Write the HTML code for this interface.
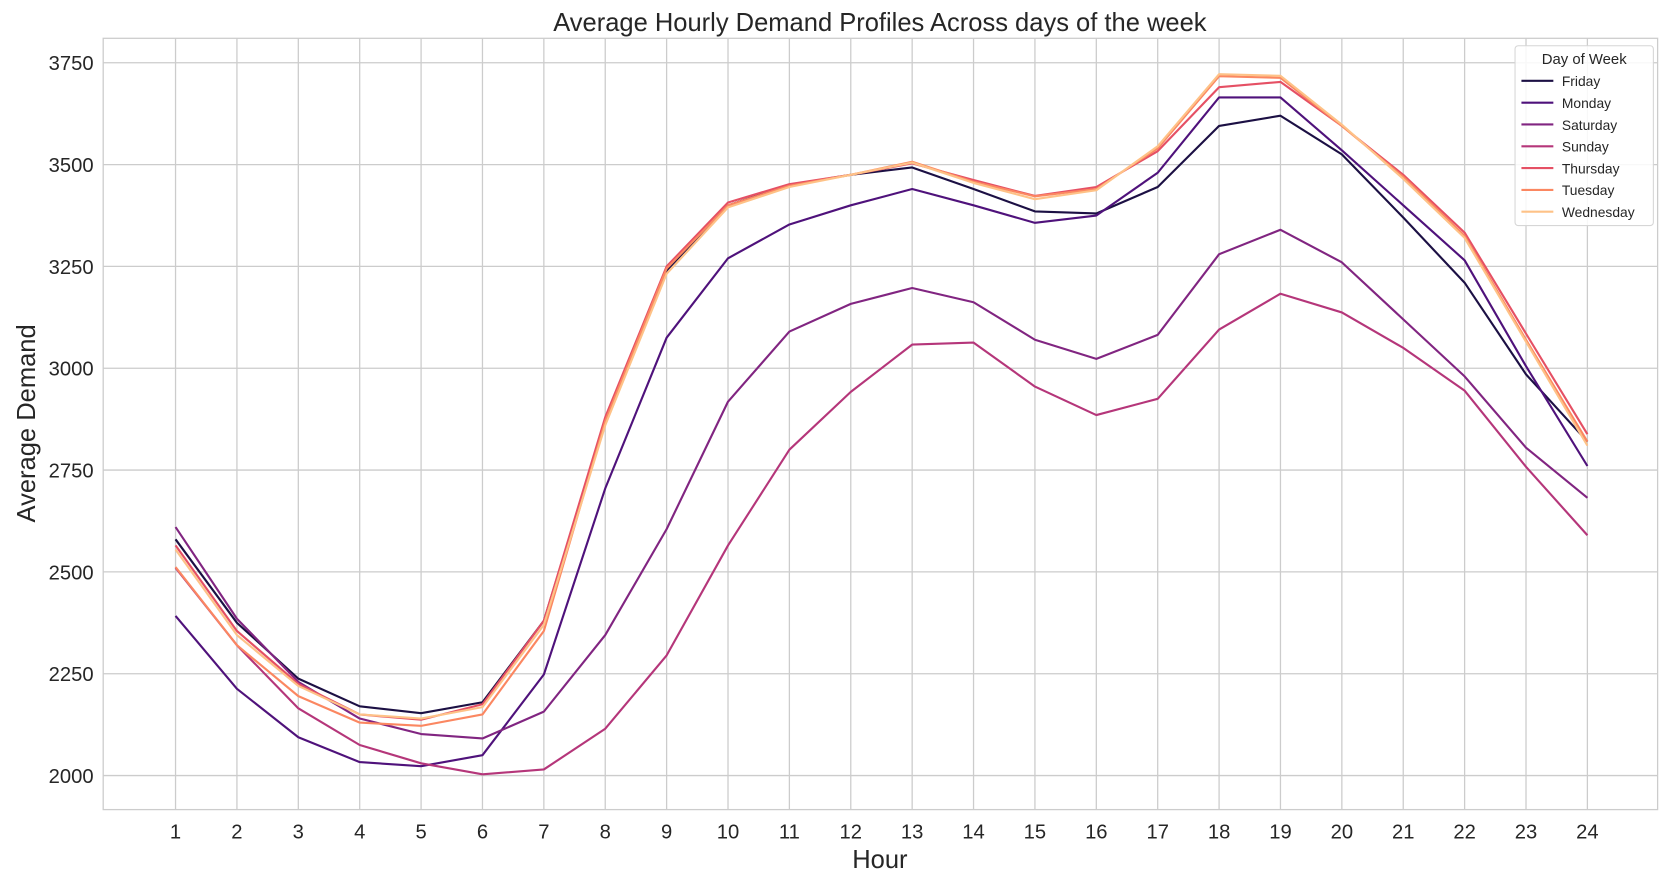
<!DOCTYPE html>
<html><head><meta charset="utf-8"><style>
body{margin:0;background:#fff;font-family:"Liberation Sans",Arial,sans-serif}
svg{display:block}
svg text{font-family:"Liberation Sans",Arial,sans-serif;fill:#262626}
</style></head><body>
<svg id="chart" width="1664" height="883" viewBox="0 0 1564 830" preserveAspectRatio="none" xmlns="http://www.w3.org/2000/svg"></svg>
<script>
const hours=[1,2,3,4,5,6,7,8,9,10,11,12,13,14,15,16,17,18,19,20,21,22,23,24];
const yTicks=[2000,2250,2500,2750,3000,3250,3500,3750];
const days=["Friday","Monday","Saturday","Sunday","Thursday","Tuesday","Wednesday"];
const colors=["#1c1044","#4f127b","#812581","#b5367a","#e55064","#fb8761","#fec287"];
const friday=[2580,2375,2238,2170,2153,2180,2380,2870,3240,3400,3450,3475,3493,3440,3385,3380,3445,3595,3620,3525,3370,3210,2985,2820];
const monday=[2392,2213,2094,2033,2023,2050,2248,2705,3075,3270,3353,3400,3440,3400,3357,3375,3480,3665,3665,3535,3400,3265,3005,2760];
const saturday=[2610,2385,2230,2140,2102,2091,2157,2345,2605,2918,3090,3158,3197,3162,3070,3023,3082,3280,3340,3260,3120,2980,2805,2682];
const sunday=[2510,2320,2165,2075,2030,2003,2015,2115,2295,2565,2800,2942,3058,3063,2955,2885,2925,3095,3183,3137,3050,2945,2758,2590];
const thursday=[2565,2355,2225,2150,2137,2175,2380,2880,3250,3407,3452,3475,3503,3462,3423,3445,3533,3690,3703,3595,3475,3333,3085,2838];
const tuesday=[2512,2320,2195,2130,2122,2150,2355,2870,3245,3400,3448,3475,3507,3458,3422,3440,3540,3717,3713,3595,3470,3325,3070,2820];
const wednesday=[2555,2345,2220,2150,2140,2168,2370,2860,3232,3395,3445,3475,3505,3455,3415,3437,3545,3722,3718,3598,3465,3320,3065,2810];
const series=[friday,monday,saturday,sunday,thursday,tuesday,wednesday];

const svg=document.getElementById('chart');
const NS="http://www.w3.org/2000/svg";
const L=97,R=1558,T=36,B=761;
const x=h=>165+(h-1)*(1492-165)/23;
const y=v=>729-(v-2000)*(729-59)/1750;
function mk(tag,attrs,parent){const e=document.createElementNS(NS,tag);for(const k in attrs)e.setAttribute(k,attrs[k]);(parent||svg).appendChild(e);return e;}

const grid=mk('g',{});


hours.forEach(h=>{mk('line',{x1:x(h),x2:x(h),y1:T,y2:B,stroke:'#cccccc','stroke-width':1.2},grid);
 const t=mk('text',{x:x(h),y:788,'text-anchor':'middle','font-size':19});t.textContent=h;
 
 });
yTicks.forEach(v=>{mk('line',{x1:L,x2:R,y1:y(v),y2:y(v),stroke:'#cccccc','stroke-width':1.2},grid);
 const t=mk('text',{x:88,y:y(v)+7,'text-anchor':'end','font-size':19});t.textContent=v;
 
 });
const frame=mk('rect',{x:L,y:T,width:R-L,height:B-T,fill:'none',stroke:'#cccccc','stroke-width':1.2});



series.forEach((s,i)=>{
 const p=mk('polyline',{points:s.map((v,j)=>x(hours[j])+','+y(v)).join(' '),fill:'none',stroke:colors[i],'stroke-width':2,'stroke-linejoin':'round'});
 
 
});

const title=mk('text',{x:827,y:29,'text-anchor':'middle','font-size':24});title.textContent='Average Hourly Demand Profiles Across days of the week';


const xl=mk('text',{x:827,y:816,'text-anchor':'middle','font-size':24});xl.textContent='Hour';


const yl=mk('text',{x:0,y:0,'text-anchor':'middle','font-size':24,transform:'translate(33,398) rotate(-90)'});yl.textContent='Average Demand';



const lg=mk('g',{});


mk('rect',{x:1424,y:43,width:130,height:169,rx:3,fill:'#fff','fill-opacity':0.85,stroke:'#d6d6d6'},lg);
const lt=mk('text',{x:1489,y:60,'text-anchor':'middle','font-size':14},lg);lt.textContent='Day of Week';
days.forEach((d,i)=>{const yy=76+i*20.5;
 const e=mk('g',{},lg);
 
 
 mk('line',{x1:1430,x2:1460,y1:yy,y2:yy,stroke:colors[i],'stroke-width':2},e);
 const t=mk('text',{x:1468,y:yy+5,'font-size':13},e);t.textContent=d;});
</script>
</body></html>
